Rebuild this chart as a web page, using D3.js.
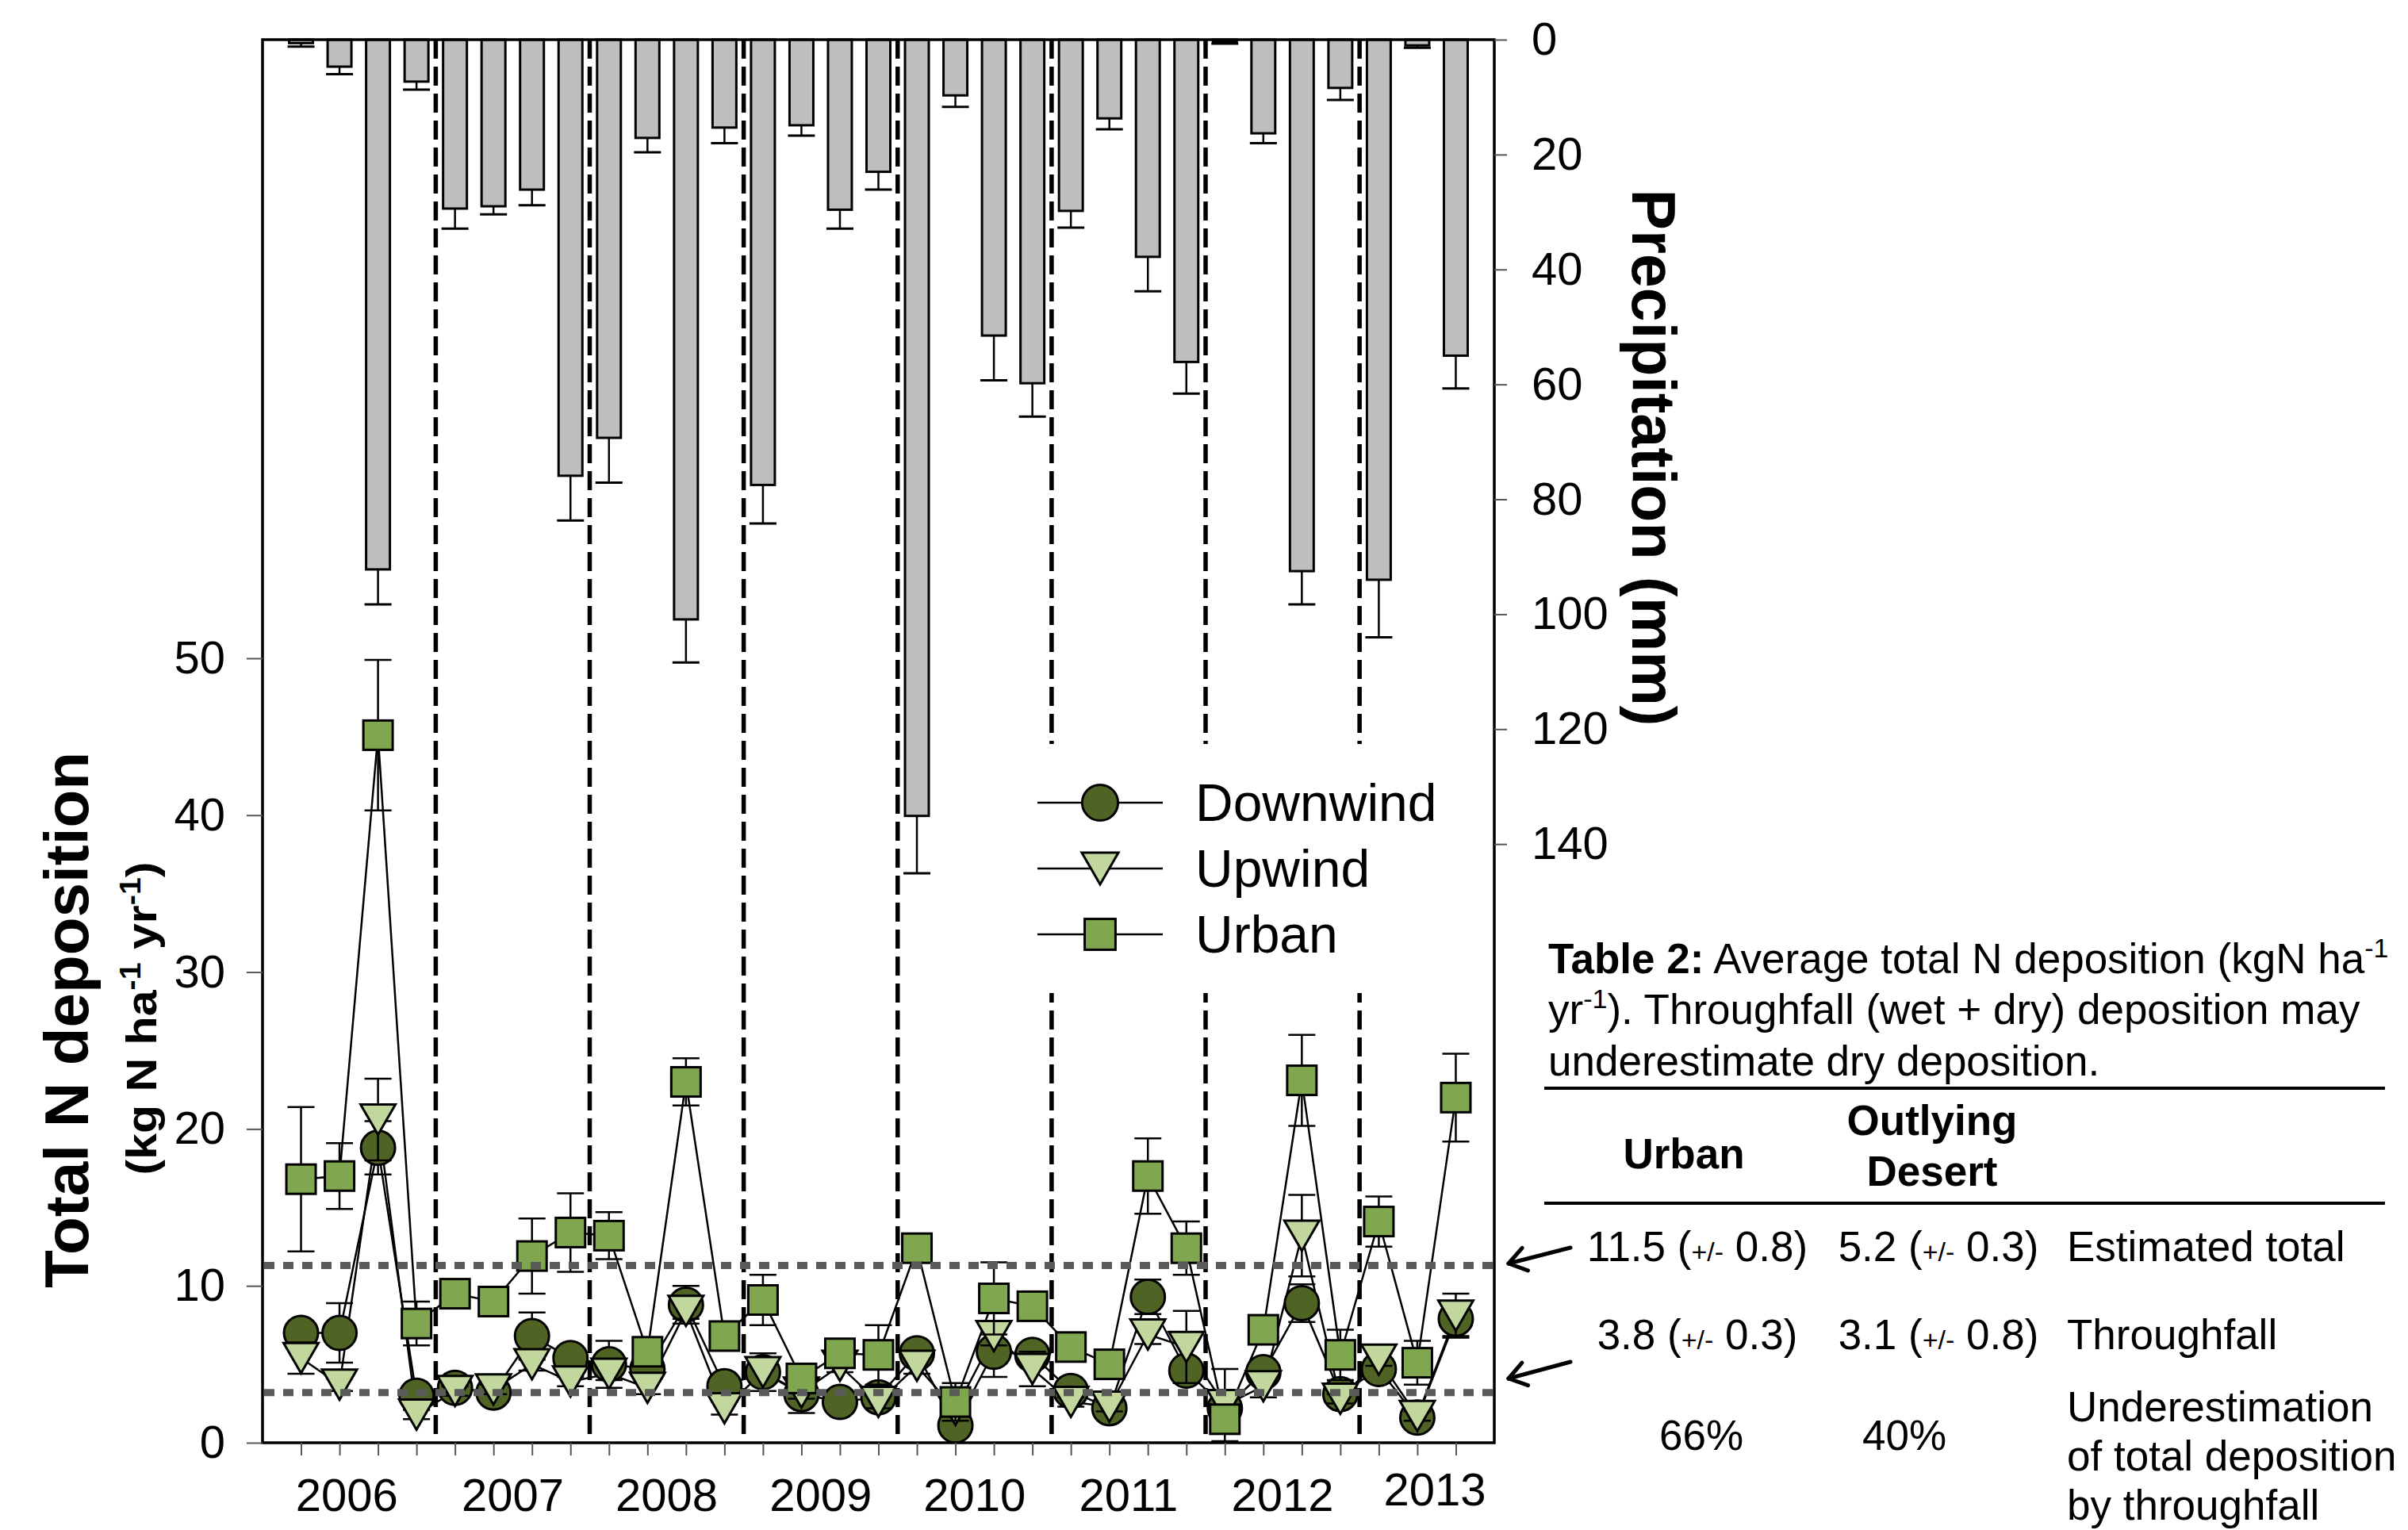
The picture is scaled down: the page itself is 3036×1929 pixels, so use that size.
<!DOCTYPE html>
<html>
<head>
<meta charset="utf-8">
<script src="https://cdn.jsdelivr.net/npm/d3@7"></script>
<style>
  body { margin: 0; background: #fff; }
  svg { display: block; font-family: "Liberation Sans", Arial, sans-serif; }
</style>
</head>
<body>
<svg id="chart" width="3036" height="1929"></svg>
<script>
// sampling periods: 4 per year, 3 in 2013
const years = ['2006', '2007', '2008', '2009', '2010', '2011', '2012', '2013'];
const periodsPerYear = [4, 4, 4, 4, 4, 4, 4, 3];

// precipitation (mm), hanging bars on the right axis
const precip    = [0.6, 4.7, 92.2, 7.3, 29.4, 29.0, 26.1, 75.9, 69.3, 17.1, 100.9, 15.3, 77.5, 14.9, 29.6, 23.0,
                   135.1, 9.7, 51.5, 59.8, 29.8, 13.7, 37.8, 56.1, 0.4, 16.3, 92.5, 8.4, 94.0, 1.0, 55.0];
const precipErr = [0.6, 1.3, 6.1, 1.4, 3.5, 1.4, 2.7, 7.8, 7.8, 2.5, 7.5, 2.7, 6.7, 1.8, 3.3, 3.1,
                   10.0, 2.0, 7.8, 5.8, 2.9, 1.9, 6.0, 5.5, 0.3, 1.7, 5.8, 2.1, 10.0, 0.4, 5.7];

// total N deposition (kg N ha-1 yr-1)
const downwind    = [7.0, 7.0, 18.8, 3.0, 3.5, 3.2, 6.8, 5.4, 5.0, 4.7, 8.8, 3.6, 4.5, 3.1, 2.6, 2.9,
                     5.7, 1.1, 5.8, 5.6, 3.3, 2.2, 9.3, 4.6, 2.2, 4.5, 8.9, 3.1, 4.7, 1.6, 7.9];
const downwindErr = [0.4, 1.9, 1.7, 0.5, 0.4, 0.3, 1.5, 0.5, 1.5, 0.5, 1.2, 0.5, 0.5, 1.2, 0.4, 0.4,
                     0.4, 0.4, 1.6, 0.4, 0.4, 0.4, 1.1, 0.4, 0.5, 0.3, 1.2, 0.4, 0.4, 0.4, 1.1];
const upwind      = [5.4, 3.7, 20.6, 1.8, 3.3, 3.4, 5.0, 3.9, 4.4, 3.5, 8.4, 2.2, 4.5, 3.2, 4.9, 2.6,
                     4.9, 2.1, 6.8, 4.7, 2.6, 2.3, 6.9, 6.1, 2.4, 3.6, 13.2, 2.8, 5.3, 1.7, 8.1];
const upwindErr   = [1.0, 0.4, 2.6, 0.3, 0.3, 0.3, 0.4, 0.3, 0.4, 0.4, 0.5, 0.4, 1.2, 0.4, 0.4, 0.4,
                     0.5, 0.3, 0.6, 1.1, 0.3, 0.3, 0.6, 2.3, 2.3, 0.7, 2.6, 0.3, 0.4, 0.3, 1.4];
const urban       = [16.8, 17.0, 45.1, 7.6, 9.5, 9.0, 11.9, 13.4, 13.2, 5.8, 23.0, 6.8, 9.1, 4.1, 5.7, 5.6,
                     12.4, 2.6, 9.2, 8.7, 6.1, 5.0, 17.0, 12.4, 1.5, 7.2, 23.1, 5.6, 14.1, 5.1, 22.0];
const urbanErr    = [4.6, 2.1, 4.8, 1.4, 0.5, 0.5, 2.4, 2.5, 1.5, 0.5, 1.5, 0.5, 1.6, 0.5, 0.5, 1.9,
                     0.5, 1.2, 2.3, 0.5, 0.5, 0.5, 2.4, 1.7, 0.5, 0.5, 2.9, 1.6, 1.6, 1.4, 2.8];

// dotted reference levels on the deposition axis
const refLines = [11.3, 3.2];

const depTicks = [0, 10, 20, 30, 40, 50];
const precipTicks = [0, 20, 40, 60, 80, 100, 120, 140];

const seriesNames = ['Downwind', 'Upwind', 'Urban'];
const seriesColors = ['#4f6424', '#c2d79e', '#80a650'];

// Table 2 text
const tableTitle = ['Average total N deposition (kgN ha', '). Throughfall (wet + dry) deposition may', 'underestimate dry deposition.'];
const tableCols = ['Urban', 'Outlying', 'Desert'];
const tableRows = [
  { urban: ['11.5', '0.8'], desert: ['5.2', '0.3'], label: ['Estimated total'] },
  { urban: ['3.8', '0.3'], desert: ['3.1', '0.8'], label: ['Throughfall'] },
  { urban: ['66%'], desert: ['40%'], label: ['Underestimation', 'of total deposition', 'by throughfall'] }
];

const svg = d3.select('#chart');
const plot = { left: 331, right: 1884, top: 50, bottom: 1819 };
const n = precip.length;
const idx = d3.range(n);

const x = d3.scaleLinear().domain([-1, 31]).range([plot.left, plot.right]);
const yN = d3.scaleLinear().domain([0, 89.43]).range([plot.bottom, plot.top]);
const yP = d3.scaleLinear().domain([0, 244.2]).range([plot.top, plot.bottom]);

// precipitation bars
const gBars = svg.append('g');
gBars.selectAll('rect')
  .data(idx)
  .enter()
  .append('rect')
  .attr('x', i => x(i) - 15)
  .attr('y', yP(0))
  .attr('width', 30)
  .attr('height', i => yP(precip[i]) - yP(0))
  .attr('fill', '#bebebe')
  .attr('stroke', '#000')
  .attr('stroke-width', 3);
gBars.selectAll('line.stem')
  .data(idx)
  .enter()
  .append('line')
  .attr('class', 'stem')
  .attr('x1', i => x(i)).attr('x2', i => x(i))
  .attr('y1', i => yP(precip[i])).attr('y2', i => yP(precip[i] + precipErr[i]))
  .attr('stroke', '#000').attr('stroke-width', 2.5);
gBars.selectAll('line.cap')
  .data(idx)
  .enter()
  .append('line')
  .attr('class', 'cap')
  .attr('x1', i => x(i) - 17).attr('x2', i => x(i) + 17)
  .attr('y1', i => yP(precip[i] + precipErr[i])).attr('y2', i => yP(precip[i] + precipErr[i]))
  .attr('stroke', '#000').attr('stroke-width', 3);

// year boundaries
let start = 0;
const groups = periodsPerYear.map((c, k) => {
  const g = { year: years[k], start: start, count: c };
  start += c;
  return g;
});
svg.append('g').selectAll('line')
  .data(groups.slice(0, -1))
  .enter()
  .append('line')
  .attr('x1', g => x(g.start + g.count - 0.5))
  .attr('x2', g => x(g.start + g.count - 0.5))
  .attr('y1', plot.top).attr('y2', plot.bottom)
  .attr('stroke', '#000').attr('stroke-width', 5.5)
  .attr('stroke-dasharray', '24,10');

// legend background hides the dashed lines
const legend = svg.append('g');
legend.append('rect')
  .attr('x', 1296).attr('y', 938).attr('width', 540).attr('height', 314)
  .attr('fill', '#fff');

// markers
function drawMarker(sel, type, s) {
  if (type === 0) {
    sel.append('circle').attr('r', 21.5 * s);
  } else if (type === 1) {
    const w = 22 * s, h = 19 * s;
    sel.append('path').attr('d', `M${-w},${-h}L${w},${-h}L0,${h}Z`);
  } else {
    const a = 18.5 * s;
    sel.append('rect').attr('x', -a).attr('y', -a).attr('width', 2 * a).attr('height', 2 * a);
  }
}

const values = [downwind, upwind, urban];
const errors = [downwindErr, upwindErr, urbanErr];

// connecting lines
const line = d3.line().x((d, i) => x(i)).y(d => yN(d));
values.forEach(v => {
  svg.append('path')
    .attr('d', line(v))
    .attr('fill', 'none')
    .attr('stroke', '#000')
    .attr('stroke-width', 2.5);
});

values.forEach((v, s) => {
  const g = svg.append('g');
  const e = errors[s];
  g.selectAll('line.stem')
    .data(idx)
    .enter()
    .append('line')
    .attr('x1', i => x(i)).attr('x2', i => x(i))
    .attr('y1', i => yN(v[i] - e[i])).attr('y2', i => yN(v[i] + e[i]))
    .attr('stroke', '#000').attr('stroke-width', 2.5);
  [-1, 1].forEach(sign => {
    g.selectAll('line.cap' + sign)
      .data(idx)
      .enter()
      .append('line')
      .attr('x1', i => x(i) - 17).attr('x2', i => x(i) + 17)
      .attr('y1', i => yN(v[i] + sign * e[i])).attr('y2', i => yN(v[i] + sign * e[i]))
      .attr('stroke', '#000').attr('stroke-width', 2.5);
  });
  idx.forEach(i => {
    const m = g.append('g')
      .attr('transform', `translate(${x(i)},${yN(v[i])})`)
      .attr('fill', seriesColors[s])
      .attr('stroke', '#000')
      .attr('stroke-width', 3);
    drawMarker(m, s, 1);
  });
});

// dotted reference lines
svg.append('g').selectAll('line')
  .data(refLines)
  .enter()
  .append('line')
  .attr('x1', plot.left + 2).attr('x2', plot.right + 4)
  .attr('y1', d => yN(d)).attr('y2', d => yN(d))
  .attr('stroke', '#5a5a5a').attr('stroke-width', 9)
  .attr('stroke-dasharray', '13,11');

// legend entries
seriesNames.forEach((name, s) => {
  const yy = 1012 + s * 83;
  legend.append('line')
    .attr('x1', 1308).attr('x2', 1466).attr('y1', yy).attr('y2', yy)
    .attr('stroke', '#000').attr('stroke-width', 2.5);
  const m = legend.append('g')
    .attr('transform', `translate(1387,${yy})`)
    .attr('fill', seriesColors[s]).attr('stroke', '#000').attr('stroke-width', 3);
  drawMarker(m, s, 1.05);
  legend.append('text')
    .attr('x', 1507).attr('y', yy + 23)
    .attr('font-size', 66)
    .text(name);
});

// frame
svg.append('rect')
  .attr('x', plot.left).attr('y', plot.top)
  .attr('width', plot.right - plot.left).attr('height', plot.bottom - plot.top)
  .attr('fill', 'none').attr('stroke', '#000').attr('stroke-width', 3.5);

// axes
const axisLeft = d3.axisLeft(yN).tickValues(depTicks).tickSize(20).tickPadding(27);
const gL = svg.append('g').attr('transform', `translate(${plot.left},0)`).call(axisLeft);
const axisRight = d3.axisRight(yP).tickValues(precipTicks).tickSize(16).tickPadding(31);
const gR = svg.append('g').attr('transform', `translate(${plot.right},0)`).call(axisRight);
const axisBottom = d3.axisBottom(x).tickValues(idx).tickSize(16).tickFormat('');
const gB = svg.append('g').attr('transform', `translate(0,${plot.bottom})`).call(axisBottom);
[gL, gR, gB].forEach(g => {
  g.select('.domain').remove();
  g.selectAll('.tick line').attr('stroke', '#555').attr('stroke-width', 2);
  g.selectAll('.tick text')
    .attr('fill', '#000')
    .attr('font-size', 58)
    .attr('font-family', '"Liberation Sans", Arial, sans-serif');
});

// year labels
const yearNudge = { '2006': [-15, 0], '2013': [22, -7] };
svg.append('g').selectAll('text')
  .data(groups)
  .enter()
  .append('text')
  .attr('x', g => x(g.start + (g.count - 1) / 2) + (yearNudge[g.year] ? yearNudge[g.year][0] : 0))
  .attr('y', g => 1905 + (yearNudge[g.year] ? yearNudge[g.year][1] : 0))
  .attr('text-anchor', 'middle')
  .attr('font-size', 58)
  .text(g => g.year);

// axis titles
svg.append('text')
  .attr('transform', 'translate(111,1286) rotate(-90)')
  .attr('text-anchor', 'middle')
  .attr('font-size', 78).attr('font-weight', 'bold')
  .attr('textLength', 676).attr('lengthAdjust', 'spacingAndGlyphs')
  .text('Total N deposition');

const sub = svg.append('text')
  .attr('transform', 'translate(197,1284) rotate(-90)')
  .attr('text-anchor', 'middle')
  .attr('font-size', 54).attr('font-weight', 'bold')
  .attr('textLength', 395).attr('lengthAdjust', 'spacingAndGlyphs');
sub.append('tspan').text('(kg N ha');
sub.append('tspan').attr('dy', -20).attr('font-size', 36).text('-1');
sub.append('tspan').attr('dy', 20).text(' yr');
sub.append('tspan').attr('dy', -20).attr('font-size', 36).text('-1');
sub.append('tspan').attr('dy', 20).text(')');

svg.append('text')
  .attr('transform', 'translate(2058,577) rotate(90)')
  .attr('text-anchor', 'middle')
  .attr('font-size', 78).attr('font-weight', 'bold')
  .attr('textLength', 677).attr('lengthAdjust', 'spacingAndGlyphs')
  .text('Precipitation (mm)');

// arrows pointing at the reference lines
function arrow(x1, y1, x2, y2) {
  const g = svg.append('g').attr('stroke', '#000').attr('stroke-width', 5)
    .attr('fill', 'none').attr('stroke-linecap', 'round');
  g.append('line').attr('x1', x1).attr('y1', y1).attr('x2', x2).attr('y2', y2);
  const a = Math.atan2(y1 - y2, x1 - x2);
  [0.6, -0.6].forEach(da => {
    g.append('line')
      .attr('x1', x2).attr('y1', y2)
      .attr('x2', x2 + 26 * Math.cos(a + da)).attr('y2', y2 + 26 * Math.sin(a + da));
  });
}
arrow(1980, 1573, 1902, 1593);
arrow(1980, 1717, 1902, 1738);

// table
const tbl = svg.append('g').attr('font-size', 53).attr('fill', '#000');
const t1 = tbl.append('text').attr('x', 1952).attr('y', 1227);
t1.append('tspan').attr('font-weight', 'bold').text('Table 2:');
t1.append('tspan').text(' ' + tableTitle[0]);
t1.append('tspan').attr('dy', -20).attr('font-size', 34).text('-1');
const t2 = tbl.append('text').attr('x', 1952).attr('y', 1291);
t2.append('tspan').text('yr');
t2.append('tspan').attr('dy', -20).attr('font-size', 34).text('-1');
t2.append('tspan').attr('dy', 20).text(tableTitle[1]);
tbl.append('text').attr('x', 1952).attr('y', 1356).text(tableTitle[2]);

[1372, 1517].forEach(yy => {
  tbl.append('line').attr('x1', 1947).attr('x2', 3007).attr('y1', yy).attr('y2', yy)
    .attr('stroke', '#000').attr('stroke-width', 4);
});

tbl.append('text').attr('x', 2123).attr('y', 1473).attr('text-anchor', 'middle')
  .attr('font-weight', 'bold').text(tableCols[0]);
tbl.append('text').attr('x', 2436).attr('y', 1431).attr('text-anchor', 'middle')
  .attr('font-weight', 'bold').text(tableCols[1]);
tbl.append('text').attr('x', 2436).attr('y', 1495).attr('text-anchor', 'middle')
  .attr('font-weight', 'bold').text(tableCols[2]);

function valueText(cx, yy, parts) {
  const t = tbl.append('text').attr('x', cx).attr('y', yy).attr('text-anchor', 'middle');
  if (parts.length === 1) {
    t.text(parts[0]);
    return;
  }
  t.append('tspan').text(parts[0] + ' (');
  t.append('tspan').attr('font-size', 34).text('+/-');
  t.append('tspan').text(' ' + parts[1] + ')');
}
const rowY = [1590, 1701, 1828];
tableRows.forEach((r, k) => {
  valueText(k === 2 ? 2145 : 2140, rowY[k], r.urban);
  valueText(k === 2 ? 2401 : 2444, rowY[k], r.desert);
  const ly = k === 2 ? 1792 : rowY[k];
  r.label.forEach((l, j) => {
    tbl.append('text').attr('x', 2606).attr('y', ly + j * 62).text(l);
  });
});
</script>
</body>
</html>
